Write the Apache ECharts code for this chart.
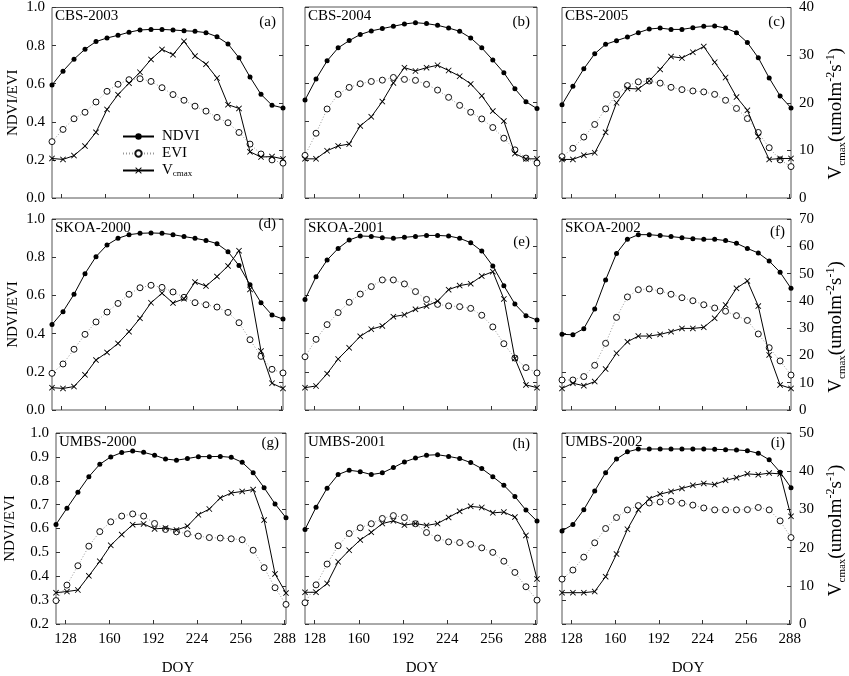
<!DOCTYPE html>
<html>
<head>
<meta charset="utf-8">
<script src="https://cdn.jsdelivr.net/npm/echarts@6/dist/echarts.min.js"></script>
<style>
  html, body { margin: 0; padding: 0; background: #fff; }
  #chart { width: 849px; height: 676px; }
</style>
</head>
<body>
<div id="chart"></div>
<script>
// 8-day MODIS composite days
const doy = [121, 129, 137, 145, 153, 161, 169, 177, 185, 193, 201, 209, 217, 225, 233, 241, 249, 257, 265, 273, 281, 289]
const doyTicks = [128, 160, 192, 224, 256, 288]

const ndviCbs2003 = [0.593, 0.666, 0.729, 0.781, 0.821, 0.840, 0.854, 0.870, 0.882, 0.885, 0.885, 0.882, 0.878, 0.875, 0.868, 0.847, 0.809, 0.736, 0.635, 0.544, 0.487, 0.473]
const eviCbs2003 = [0.296, 0.360, 0.416, 0.450, 0.504, 0.560, 0.597, 0.621, 0.626, 0.612, 0.579, 0.543, 0.513, 0.482, 0.456, 0.423, 0.395, 0.344, 0.283, 0.231, 0.200, 0.183]
const vcmaxCbs2003 = [8.3, 8.1, 8.9, 10.9, 13.8, 18.6, 21.7, 24.1, 26.4, 29.1, 31.2, 30.1, 32.9, 29.8, 28.1, 25.2, 19.6, 18.8, 9.7, 8.6, 8.7, 8.2]

const ndviCbs2004 = [0.513, 0.623, 0.718, 0.786, 0.824, 0.856, 0.875, 0.887, 0.899, 0.911, 0.918, 0.913, 0.904, 0.890, 0.873, 0.838, 0.786, 0.722, 0.656, 0.572, 0.504, 0.468]
const eviCbs2004 = [0.223, 0.339, 0.466, 0.543, 0.579, 0.598, 0.610, 0.617, 0.631, 0.621, 0.616, 0.595, 0.565, 0.527, 0.485, 0.449, 0.414, 0.369, 0.313, 0.252, 0.209, 0.183]
const vcmaxCbs2004 = [8.2, 8.2, 9.9, 10.9, 11.3, 15.1, 17.0, 20.2, 24.1, 27.3, 26.6, 27.3, 27.8, 26.7, 25.5, 23.9, 21.4, 18.2, 16.1, 9.3, 8.2, 8.2]

const ndviCbs2005 = [0.490, 0.586, 0.678, 0.757, 0.807, 0.826, 0.845, 0.868, 0.887, 0.892, 0.885, 0.885, 0.894, 0.901, 0.903, 0.892, 0.868, 0.816, 0.736, 0.630, 0.536, 0.473]
const eviCbs2005 = [0.217, 0.261, 0.320, 0.386, 0.468, 0.543, 0.590, 0.610, 0.614, 0.603, 0.581, 0.569, 0.562, 0.557, 0.544, 0.513, 0.470, 0.417, 0.344, 0.264, 0.200, 0.165]
const vcmaxCbs2005 = [8.1, 8.1, 9.0, 9.5, 13.8, 20.0, 23.0, 22.9, 24.6, 27.0, 29.7, 29.4, 30.6, 31.8, 28.5, 25.3, 21.2, 18.4, 12.9, 8.1, 8.3, 8.3]

const ndviSkoa2000 = [0.447, 0.515, 0.606, 0.714, 0.803, 0.864, 0.899, 0.918, 0.925, 0.927, 0.925, 0.918, 0.908, 0.899, 0.888, 0.871, 0.829, 0.756, 0.656, 0.562, 0.497, 0.476]
const eviSkoa2000 = [0.192, 0.241, 0.318, 0.396, 0.461, 0.513, 0.558, 0.606, 0.640, 0.653, 0.642, 0.618, 0.590, 0.562, 0.551, 0.539, 0.511, 0.457, 0.368, 0.281, 0.213, 0.194]
const vcmaxSkoa2000 = [8.2, 7.9, 8.6, 12.9, 18.3, 21.1, 24.4, 28.7, 33.6, 39.3, 42.8, 39.2, 40.8, 46.9, 45.4, 48.9, 52.8, 58.4, 44.2, 21.6, 9.8, 7.9]

const ndviSkoa2001 = [0.579, 0.698, 0.785, 0.846, 0.890, 0.911, 0.909, 0.902, 0.899, 0.904, 0.909, 0.914, 0.914, 0.911, 0.899, 0.876, 0.832, 0.754, 0.651, 0.555, 0.494, 0.471]
const eviSkoa2001 = [0.279, 0.370, 0.447, 0.510, 0.564, 0.607, 0.646, 0.681, 0.681, 0.660, 0.620, 0.579, 0.553, 0.545, 0.541, 0.532, 0.496, 0.435, 0.347, 0.272, 0.222, 0.194]
const vcmaxSkoa2001 = [8.2, 8.8, 13.3, 18.7, 22.8, 27.0, 29.6, 30.8, 34.2, 34.9, 36.9, 38.1, 39.9, 44.1, 45.6, 46.3, 49.1, 50.7, 40.7, 18.9, 9.2, 8.2]

const ndviSkoa2002 = [0.396, 0.394, 0.426, 0.529, 0.681, 0.820, 0.894, 0.918, 0.918, 0.913, 0.908, 0.902, 0.897, 0.894, 0.894, 0.887, 0.873, 0.846, 0.822, 0.780, 0.721, 0.637]
const eviSkoa2002 = [0.157, 0.157, 0.175, 0.234, 0.349, 0.485, 0.592, 0.630, 0.634, 0.623, 0.606, 0.588, 0.572, 0.551, 0.534, 0.517, 0.494, 0.469, 0.398, 0.326, 0.257, 0.183]
const vcmaxSkoa2002 = [7.9, 9.8, 8.9, 10.4, 15.0, 20.8, 25.0, 27.1, 27.1, 27.7, 28.7, 29.9, 29.9, 30.3, 33.6, 38.5, 44.6, 47.3, 38.1, 20.2, 9.2, 7.9]

const ndviUmbs2000 = [0.617, 0.685, 0.752, 0.817, 0.869, 0.900, 0.918, 0.925, 0.919, 0.907, 0.891, 0.886, 0.893, 0.901, 0.901, 0.902, 0.898, 0.877, 0.834, 0.771, 0.703, 0.645]
const eviUmbs2000 = [0.298, 0.363, 0.444, 0.526, 0.587, 0.628, 0.652, 0.661, 0.652, 0.621, 0.596, 0.586, 0.578, 0.568, 0.562, 0.560, 0.557, 0.553, 0.509, 0.436, 0.352, 0.282]
const vcmaxUmbs2000 = [8.2, 8.5, 8.9, 12.6, 16.4, 20.6, 23.4, 26.0, 26.2, 24.9, 25.1, 24.6, 25.6, 28.6, 30.1, 33.0, 34.3, 34.7, 35.2, 27.2, 13.1, 8.1]

const ndviUmbs2001 = [0.596, 0.689, 0.769, 0.826, 0.844, 0.838, 0.826, 0.833, 0.855, 0.879, 0.895, 0.907, 0.909, 0.902, 0.893, 0.876, 0.851, 0.817, 0.781, 0.734, 0.677, 0.631]
const eviUmbs2001 = [0.289, 0.364, 0.451, 0.528, 0.579, 0.603, 0.620, 0.642, 0.654, 0.646, 0.620, 0.583, 0.560, 0.544, 0.541, 0.534, 0.519, 0.500, 0.463, 0.416, 0.356, 0.300]
const vcmaxUmbs2001 = [8.3, 8.3, 10.6, 16.3, 19.3, 22.0, 24.0, 26.3, 27.0, 25.9, 26.3, 25.8, 26.3, 27.9, 29.5, 30.8, 30.5, 29.1, 29.3, 28.0, 23.2, 11.8]

const ndviUmbs2002 = [0.590, 0.617, 0.679, 0.757, 0.834, 0.891, 0.921, 0.933, 0.933, 0.933, 0.933, 0.933, 0.933, 0.933, 0.932, 0.930, 0.929, 0.926, 0.915, 0.888, 0.836, 0.771]
const eviUmbs2002 = [0.388, 0.426, 0.480, 0.540, 0.600, 0.646, 0.678, 0.696, 0.707, 0.711, 0.714, 0.706, 0.698, 0.686, 0.678, 0.678, 0.678, 0.679, 0.688, 0.678, 0.632, 0.562]
const vcmaxUmbs2002 = [8.2, 8.2, 8.2, 8.5, 12.4, 18.3, 24.8, 29.9, 32.8, 34.0, 34.7, 35.5, 36.3, 36.8, 36.5, 37.6, 38.3, 39.3, 39.1, 39.5, 39.3, 28.2]

const panels = [
  { site: 'CBS-2003', tag: '(a)', ndvi: ndviCbs2003, evi: eviCbs2003, vcmax: vcmaxCbs2003 },
  { site: 'CBS-2004', tag: '(b)', ndvi: ndviCbs2004, evi: eviCbs2004, vcmax: vcmaxCbs2004 },
  { site: 'CBS-2005', tag: '(c)', ndvi: ndviCbs2005, evi: eviCbs2005, vcmax: vcmaxCbs2005 },
  { site: 'SKOA-2000', tag: '(d)', ndvi: ndviSkoa2000, evi: eviSkoa2000, vcmax: vcmaxSkoa2000 },
  { site: 'SKOA-2001', tag: '(e)', ndvi: ndviSkoa2001, evi: eviSkoa2001, vcmax: vcmaxSkoa2001 },
  { site: 'SKOA-2002', tag: '(f)', ndvi: ndviSkoa2002, evi: eviSkoa2002, vcmax: vcmaxSkoa2002 },
  { site: 'UMBS-2000', tag: '(g)', ndvi: ndviUmbs2000, evi: eviUmbs2000, vcmax: vcmaxUmbs2000 },
  { site: 'UMBS-2001', tag: '(h)', ndvi: ndviUmbs2001, evi: eviUmbs2001, vcmax: vcmaxUmbs2001 },
  { site: 'UMBS-2002', tag: '(i)', ndvi: ndviUmbs2002, evi: eviUmbs2002, vcmax: vcmaxUmbs2002 },
]

// layout
const FONT = '"Liberation Serif", "Times New Roman", serif'
const CROSS = 'path://M0,1L1,0L5,4L9,0L10,1L6,5L10,9L9,10L5,6L1,10L0,9L4,5Z'
const W = 849
const colLeft = [52, 305, 562]
const colWidth = [231, 232, 230]
const rowTop = [7, 219, 433]
const rowHeight = 191
const leftScale = [[0, 1, 0.2], [0, 1, 0.2], [0.2, 1, 0.1]]
const rightMax = [40, 70, 50]
const leftNameGap = [31, 31, 38]
const rightNameShift = [22, 25, 4]
const tagDy = [16, 16, 16, 6, 24, 14, 11, 12, 11]

const grid = []
const xAxis = []
const yAxis = []
const series = []
const title = []

const tickStyle = { inside: true, length: 4, lineStyle: { color: '#333', width: 1 } }
const labelStyle = { color: '#000', fontFamily: FONT, fontSize: 15 }

panels.forEach((p, i) => {
  const row = Math.floor(i / 3)
  const col = i % 3
  let left = colLeft[col]
  let width = colWidth[col]
  if (row === 2 && col === 0) {
    left = 56
    width = 230
  }
  const top = rowTop[row]

  grid.push({ left, top, width, height: rowHeight, show: true, borderColor: '#555', borderWidth: 1 })

  xAxis.push({
    type: 'value',
    gridIndex: i,
    min: 121,
    max: 289,
    axisLine: { show: false },
    axisTick: { ...tickStyle, customValues: doyTicks },
    axisLabel: { ...labelStyle, show: row === 2, customValues: doyTicks, margin: 8 },
    splitLine: { show: false },
  })

  const [lmin, lmax, lstep] = leftScale[row]
  yAxis.push({
    type: 'value',
    gridIndex: i,
    position: 'left',
    min: lmin,
    max: lmax,
    interval: lstep,
    axisLine: { show: false },
    axisTick: tickStyle,
    axisLabel: { ...labelStyle, show: col === 0, margin: 7, formatter: v => v.toFixed(1) },
    splitLine: { show: false },
    name: col === 0 ? 'NDVI/EVI' : '',
    nameLocation: 'middle',
    nameRotate: 90,
    nameGap: leftNameGap[row],
    nameTextStyle: { color: '#000', fontFamily: FONT, fontSize: 15 },
  })
  yAxis.push({
    type: 'value',
    gridIndex: i,
    position: 'right',
    min: 0,
    max: rightMax[row],
    interval: 10,
    axisLine: { show: false },
    axisTick: tickStyle,
    axisLabel: { ...labelStyle, show: col === 2, margin: 8 },
    splitLine: { show: false },
    name: col === 2 ? '{m|V}{s|cmax}{m|(umolm}{p|-2}{m|s}{p|-1}{m|)}' : '',
    nameLocation: 'middle',
    nameRotate: 90,
    nameGap: 34,
    nameTextStyle: {
      color: '#000',
      fontFamily: FONT,
      fontSize: 19,
      padding: [0, rightNameShift[row], 0, 0],
      rich: {
        m: { fontFamily: FONT, fontSize: 19, color: '#000', lineHeight: 23 },
        s: { fontFamily: FONT, fontSize: 11, color: '#000', verticalAlign: 'bottom' },
        p: { fontFamily: FONT, fontSize: 12, color: '#000', verticalAlign: 'top' },
      },
    },
  })

  const pts = vals => doy.map((d, k) => [d, vals[k]])
  series.push({
    name: 'NDVI',
    type: 'line',
    xAxisIndex: i,
    yAxisIndex: 2 * i,
    data: pts(p.ndvi),
    symbol: 'circle',
    symbolSize: 5,
    clip: false,
    itemStyle: { color: '#000' },
    lineStyle: { color: '#000', width: 1 },
    z: 4,
  })
  series.push({
    name: 'EVI',
    type: 'line',
    xAxisIndex: i,
    yAxisIndex: 2 * i,
    data: pts(p.evi),
    symbol: 'circle',
    symbolSize: 6,
    clip: false,
    itemStyle: { color: '#fff', borderColor: '#111', borderWidth: 1 },
    lineStyle: { color: '#999', width: 1, type: [1, 2] },
    z: 3,
  })
  series.push({
    name: 'Vcmax',
    type: 'line',
    xAxisIndex: i,
    yAxisIndex: 2 * i + 1,
    data: pts(p.vcmax),
    symbol: CROSS,
    symbolSize: 6,
    clip: false,
    itemStyle: { color: '#000' },
    lineStyle: { color: '#000', width: 1 },
    z: 5,
  })

  const txt = { color: '#000', fontFamily: FONT, fontSize: 15, fontWeight: 'normal' }
  title.push({ text: p.site, left: left + 3, top: top + 2, padding: 0, textStyle: txt })
  title.push({ text: p.tag, right: W - (left + width - 7), top: top + tagDy[i] - 8, padding: 0, textStyle: txt })
})

const graphic = [178, 422, 688].map(x => ({
  type: 'text',
  x,
  y: 668,
  style: { text: 'DOY', fontFamily: FONT, fontSize: 15, fill: '#000', align: 'center', verticalAlign: 'middle' },
}))

const chart = echarts.init(document.getElementById('chart'))
chart.setOption({
  animation: false,
  backgroundColor: '#fff',
  title,
  grid,
  xAxis,
  yAxis,
  series,
  graphic,
  legend: {
    data: ['NDVI', 'EVI', 'Vcmax'],
    orient: 'vertical',
    left: 122,
    top: 129,
    itemWidth: 31,
    itemHeight: 8,
    itemGap: 2,
    selectedMode: false,
    padding: 0,
    formatter: name => (name === 'Vcmax' ? 'V{s|cmax}' : name),
    textStyle: {
      color: '#000',
      fontFamily: FONT,
      fontSize: 15,
      padding: [0, 0, 0, 3],
      rich: { s: { fontFamily: FONT, fontSize: 9, color: '#000', verticalAlign: 'bottom' } },
    },
  },
})
</script>
</body>
</html>
